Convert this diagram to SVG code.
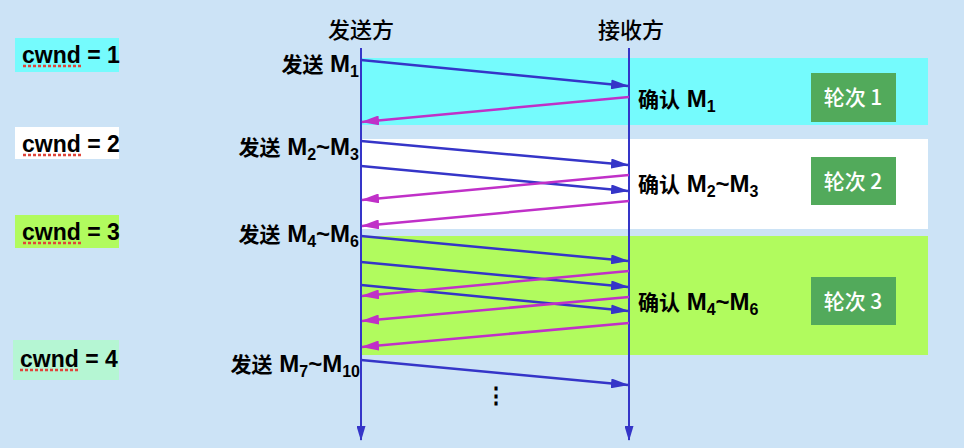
<svg xmlns="http://www.w3.org/2000/svg" width="964" height="448" viewBox="0 0 964 448">
<style>
.t{font-family:"Liberation Sans","Noto Sans CJK SC",Arial,sans-serif;font-weight:bold;fill:#000}
.lbl{font-size:24px}
.cj{font-family:"Noto Sans CJK SC",sans-serif;font-size:21px}
.hd{font-family:"Noto Sans CJK SC",sans-serif;font-size:22px;font-weight:500}
.cw{font-size:23px}
.sub{font-size:16px}
.rt{font-family:"Noto Sans CJK SC","Liberation Sans",sans-serif;font-size:21px;fill:#fff;font-weight:500}
.blue{stroke:#3535c8;stroke-width:2.5;fill:none}
.mag{stroke:#c030c8;stroke-width:2.5;fill:none}
.und{stroke:#e0453a;stroke-width:2.5;stroke-dasharray:3 2}
.life{stroke:#3535c8;stroke-width:2}
</style>
<defs>
<marker id="ab" markerUnits="userSpaceOnUse" markerWidth="18" markerHeight="10" refX="17" refY="5" orient="auto"><path d="M0,0 L18,5 L0,10 z" fill="#3535c8"/></marker>
<marker id="am" markerUnits="userSpaceOnUse" markerWidth="18" markerHeight="10" refX="17" refY="5" orient="auto"><path d="M0,0 L18,5 L0,10 z" fill="#c030c8"/></marker>
<marker id="al" markerUnits="userSpaceOnUse" markerWidth="15" markerHeight="9" refX="14" refY="4.5" orient="auto"><path d="M0,0 L15,4.5 L0,9 z" fill="#3535c8"/></marker>
</defs>
<rect width="964" height="448" fill="#cce3f6"/>
<g id="bands">
<rect x="361" y="58" width="567" height="67" fill="#75fbfd"/>
<rect x="361" y="139" width="567" height="90" fill="#ffffff"/>
<rect x="361" y="236" width="567" height="119" fill="#b1fb5e"/>
</g>
<g id="cwnd1"><rect x="15" y="38" width="104" height="34" fill="#75fbfd"/><text class="t cw" x="22" y="63">cwnd = 1</text><line class="und" x1="23" y1="66" x2="82" y2="66"/></g>
<g id="cwnd2"><rect x="15" y="127" width="104" height="32" fill="#ffffff"/><text class="t cw" x="22" y="152">cwnd = 2</text><line class="und" x1="23" y1="155" x2="82" y2="155"/></g>
<g id="cwnd3"><rect x="15" y="215" width="104" height="33" fill="#b1fb5e"/><text class="t cw" x="22" y="240">cwnd = 3</text><line class="und" x1="23" y1="243" x2="82" y2="243"/></g>
<g id="cwnd4"><rect x="13" y="340" width="106" height="40" fill="#b5f6d3"/><text class="t cw" x="20" y="367">cwnd = 4</text><line class="und" x1="20" y1="370" x2="80" y2="370"/></g>
<g id="sender"><text class="t hd" x="361" y="38" text-anchor="middle">发送方</text><line class="life" x1="361" y1="48" x2="361" y2="440" marker-end="url(#al)"/></g>
<g id="receiver"><text class="t hd" x="631" y="38" text-anchor="middle">接收方</text><line class="life" x1="629" y1="48" x2="629" y2="440" marker-end="url(#al)"/></g>
<g id="send-labels">
<text class="t lbl" x="359" y="72" text-anchor="end"><tspan class="cj">发送</tspan> M<tspan class="sub" dy="5">1</tspan></text>
<text class="t lbl" x="359" y="155" text-anchor="end"><tspan class="cj">发送</tspan> M<tspan class="sub" dy="5">2</tspan><tspan dy="-5">~M</tspan><tspan class="sub" dy="5">3</tspan></text>
<text class="t lbl" x="359" y="242" text-anchor="end"><tspan class="cj">发送</tspan> M<tspan class="sub" dy="5">4</tspan><tspan dy="-5">~M</tspan><tspan class="sub" dy="5">6</tspan></text>
<text class="t lbl" x="360" y="372" text-anchor="end"><tspan class="cj">发送</tspan> M<tspan class="sub" dy="5">7</tspan><tspan dy="-5">~M</tspan><tspan class="sub" dy="5">10</tspan></text>
</g>
<g id="ack-labels">
<text class="t lbl" x="638" y="107"><tspan class="cj">确认</tspan> M<tspan class="sub" dy="5">1</tspan></text>
<text class="t lbl" x="638" y="192"><tspan class="cj">确认</tspan> M<tspan class="sub" dy="5">2</tspan><tspan dy="-5">~M</tspan><tspan class="sub" dy="5">3</tspan></text>
<text class="t lbl" x="638" y="310"><tspan class="cj">确认</tspan> M<tspan class="sub" dy="5">4</tspan><tspan dy="-5">~M</tspan><tspan class="sub" dy="5">6</tspan></text>
</g>
<g id="round1"><rect x="811" y="73" width="85" height="49" fill="#52aa5b"/><text class="rt" x="853" y="105" text-anchor="middle">轮次 1</text></g>
<g id="round2"><rect x="811" y="157" width="85" height="48" fill="#52aa5b"/><text class="rt" x="853" y="189" text-anchor="middle">轮次 2</text></g>
<g id="round3"><rect x="811" y="277" width="85" height="48" fill="#52aa5b"/><text class="rt" x="853" y="309" text-anchor="middle">轮次 3</text></g>
<g id="connectors">
<line class="blue" x1="361" y1="60" x2="628" y2="86" marker-end="url(#ab)"/>
<line class="mag" x1="629" y1="97" x2="362" y2="122" marker-end="url(#am)"/>
<line class="blue" x1="361" y1="141" x2="628" y2="165" marker-end="url(#ab)"/>
<line class="blue" x1="361" y1="166" x2="628" y2="191" marker-end="url(#ab)"/>
<line class="mag" x1="629" y1="175" x2="362" y2="200" marker-end="url(#am)"/>
<line class="mag" x1="629" y1="201" x2="362" y2="226" marker-end="url(#am)"/>
<line class="blue" x1="361" y1="236" x2="628" y2="261" marker-end="url(#ab)"/>
<line class="blue" x1="361" y1="262" x2="628" y2="287" marker-end="url(#ab)"/>
<line class="blue" x1="361" y1="285" x2="628" y2="311" marker-end="url(#ab)"/>
<line class="mag" x1="629" y1="271" x2="362" y2="296" marker-end="url(#am)"/>
<line class="mag" x1="629" y1="297" x2="362" y2="321" marker-end="url(#am)"/>
<line class="mag" x1="629" y1="323" x2="362" y2="347" marker-end="url(#am)"/>
<line class="blue" x1="361" y1="360" x2="628" y2="385" marker-end="url(#ab)"/>
</g>
<text class="t" x="496" y="403" font-size="22" text-anchor="middle">⋮</text>
</svg>
